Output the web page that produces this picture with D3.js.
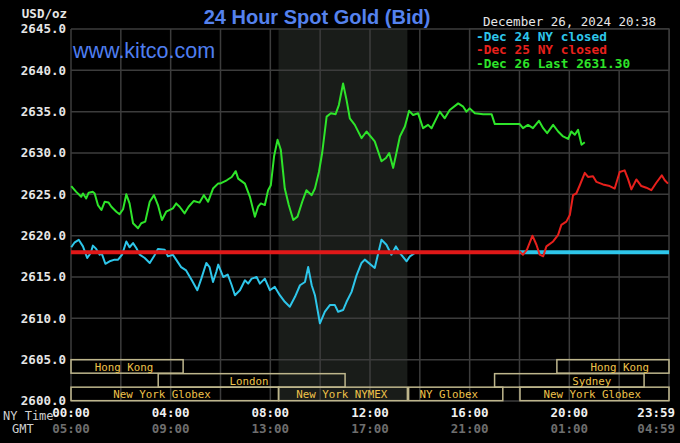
<!DOCTYPE html>
<html><head><meta charset="utf-8">
<script src="https://cdn.jsdelivr.net/npm/d3@7"></script>
<style>
html,body{margin:0;padding:0;background:#000;}
svg{display:block;}
</style></head>
<body>
<script>
// ---------- data ----------
const yTicks = [2600,2605,2610,2615,2620,2625,2630,2635,2640,2645];
const xTickHours = [0,4,8,12,16,20,23.983];
const nyTimeLabels = ["00:00","04:00","08:00","12:00","16:00","20:00","23:59"];
const gmtLabels = ["05:00","09:00","13:00","17:00","21:00","01:00","04:59"];
const closeLevel = 2618.0;
const redCloseSpan = [0,18.0];
const cyanCloseSpan = [18.0,24];
const shadeSpan = [8.33,13.5];

// Dec 24 (cyan): [hour, price]
const dec24 = [[0.01,2618.6],[0.15,2619.2],[0.31,2619.5],[0.48,2618.7],[0.65,2617.3],[0.79,2617.9],[0.88,2618.8],[1.01,2618.4],[1.15,2617.7],[1.24,2617.8],[1.38,2616.6],[1.55,2616.9],[1.75,2617.1],[1.89,2617.1],[2.05,2617.7],[2.22,2619.3],[2.35,2618.6],[2.49,2619.1],[2.62,2618.5],[2.76,2617.7],[2.96,2617.3],[3.16,2616.7],[3.33,2617.5],[3.49,2618.4],[3.76,2618.3],[3.89,2617.5],[4.09,2617.7],[4.22,2617.1],[4.42,2616.2],[4.62,2615.8],[4.85,2614.6],[5.07,2613.4],[5.23,2614.8],[5.43,2616.7],[5.56,2616.2],[5.70,2614.4],[5.83,2615.6],[5.91,2616.5],[6.11,2615.0],[6.29,2615.3],[6.45,2614.0],[6.58,2612.8],[6.78,2613.4],[6.98,2614.6],[7.11,2614.2],[7.25,2614.8],[7.45,2615.0],[7.58,2614.2],[7.78,2614.8],[7.98,2613.4],[8.18,2613.8],[8.38,2612.8],[8.58,2612.0],[8.78,2611.4],[8.99,2612.6],[9.19,2614.0],[9.39,2614.4],[9.52,2616.2],[9.66,2614.0],[9.79,2612.8],[9.99,2609.4],[10.19,2610.8],[10.39,2611.6],[10.59,2611.6],[10.72,2610.8],[10.92,2611.0],[11.06,2612.0],[11.26,2613.2],[11.46,2615.2],[11.66,2616.7],[11.79,2617.1],[12.19,2616.1],[12.46,2619.5],[12.66,2618.9],[12.86,2617.7],[13.04,2618.7],[13.20,2617.9],[13.47,2616.9],[13.60,2617.5],[13.80,2617.9]];

// Dec 25 (red): [hour, price]
const dec25 = [[18.01,2618.1],[18.14,2617.7],[18.30,2618.3],[18.52,2620.0],[18.68,2618.9],[18.81,2617.7],[18.95,2617.5],[19.08,2618.7],[19.35,2619.3],[19.55,2620.1],[19.68,2621.3],[19.88,2621.7],[20.02,2622.5],[20.15,2624.9],[20.28,2625.1],[20.42,2626.1],[20.62,2627.6],[20.75,2627.1],[20.95,2627.2],[21.09,2626.5],[21.35,2626.2],[21.62,2626.0],[21.82,2625.7],[22.02,2627.7],[22.22,2627.9],[22.35,2626.9],[22.49,2625.6],[22.69,2626.8],[22.89,2626.0],[23.09,2625.8],[23.29,2625.5],[23.49,2626.4],[23.71,2627.3],[23.83,2626.7],[23.96,2626.3]];

// Dec 26 (green): [hour, price]
const dec26 = [[0.01,2626.0],[0.21,2625.3],[0.41,2624.7],[0.48,2625.1],[0.61,2624.5],[0.71,2625.2],[0.88,2625.3],[0.95,2625.1],[1.08,2623.7],[1.22,2623.1],[1.35,2624.1],[1.51,2624.0],[1.62,2623.5],[1.82,2622.9],[1.95,2622.6],[2.09,2623.2],[2.22,2625.0],[2.35,2623.9],[2.49,2621.5],[2.69,2620.9],[2.82,2621.5],[2.98,2621.7],[3.16,2624.1],[3.33,2624.9],[3.49,2623.7],[3.65,2621.9],[3.82,2622.9],[4.09,2623.3],[4.22,2623.9],[4.36,2623.5],[4.56,2622.7],[4.72,2623.5],[4.93,2624.2],[5.16,2624.0],[5.33,2624.9],[5.50,2624.1],[5.70,2625.7],[5.90,2626.3],[5.98,2626.3],[6.25,2626.7],[6.45,2627.1],[6.61,2627.8],[6.71,2626.9],[6.98,2626.3],[7.18,2624.7],[7.38,2622.3],[7.51,2623.5],[7.62,2623.9],[7.78,2623.7],[7.91,2625.5],[8.02,2626.1],[8.15,2629.6],[8.29,2631.6],[8.42,2630.4],[8.58,2625.7],[8.74,2623.7],[8.92,2621.9],[9.09,2622.3],[9.28,2624.1],[9.45,2625.5],[9.66,2624.9],[9.79,2625.7],[9.95,2627.7],[10.08,2630.0],[10.26,2634.4],[10.43,2634.8],[10.62,2634.7],[10.75,2635.8],[10.92,2638.4],[11.06,2636.4],[11.19,2634.2],[11.39,2633.4],[11.66,2631.8],[11.86,2632.6],[12.19,2631.4],[12.46,2629.0],[12.64,2629.4],[12.77,2630.0],[12.93,2628.2],[13.06,2630.0],[13.20,2632.0],[13.40,2633.2],[13.57,2635.1],[13.73,2634.6],[13.93,2634.8],[14.13,2633.0],[14.33,2633.4],[14.47,2633.0],[14.80,2635.0],[15.00,2634.2],[15.20,2635.2],[15.54,2636.0],[15.74,2635.6],[15.87,2635.0],[16.00,2635.4],[16.21,2634.8],[16.54,2634.7],[16.88,2634.7],[17.01,2633.5],[18.01,2633.5],[18.14,2633.0],[18.34,2633.4],[18.54,2633.0],[18.78,2633.9],[18.95,2633.0],[19.11,2632.4],[19.35,2633.4],[19.55,2632.6],[19.75,2632.0],[19.95,2631.7],[20.08,2632.6],[20.22,2632.2],[20.35,2632.8],[20.49,2631.0],[20.62,2631.3]];

// market sessions: [name, startHour, endHour, row, labelHour]
const sessions = [
  ["Hong Kong",0,4.5,0,2.13],
  ["London",3.5,11.0,1,7.14],
  ["New York Globex",0,8.33,2,3.65],
  ["New York NYMEX",8.33,13.5,2,10.87],
  ["NY Globex",13.55,17.33,2,15.16],
  ["Hong Kong",19.5,24,0,22.02],
  ["Sydney",17.0,23.0,1,20.9],
  ["New York Globex",18.02,24,2,20.92]
];
const legendItems = ["-Dec 24 NY closed","-Dec 25 NY closed","-Dec 26 Last 2631.30"];
const legendColors = ["#2ec6ea","#e8201c","#2ee42a"];

// ---------- drawing ----------
const W=680,H=443;
const svg=d3.select("body").append("svg").attr("width",W).attr("height",H);
svg.append("rect").attr("width",W).attr("height",H).attr("fill","#000");

const x=d3.scaleLinear().domain([0,24]).range([71,669]);
const y=d3.scaleLinear().domain([2600,2645]).range([401,29]);
const mono="'DejaVu Sans Mono', monospace";
const grid="#3c3c3c";

// shaded NYMEX session
svg.append("rect").attr("x",x(shadeSpan[0])).attr("y",y(2645))
  .attr("width",x(shadeSpan[1])-x(shadeSpan[0])).attr("height",y(2600)-y(2645))
  .attr("fill","#191c19");

// gridlines
svg.append("g").selectAll("line").data(yTicks).join("line")
  .attr("x1",x(0)).attr("x2",x(24)).attr("y1",d=>y(d)).attr("y2",d=>y(d))
  .attr("stroke",grid).attr("stroke-width",1.5);
svg.append("g").selectAll("line").data(d3.range(0,25,2)).join("line")
  .attr("x1",d=>x(d)).attr("x2",d=>x(d)).attr("y1",y(2645)).attr("y2",y(2600))
  .attr("stroke",grid).attr("stroke-width",1.5);

// y labels
svg.append("g").selectAll("text").data(yTicks).join("text")
  .attr("x",66).attr("y",d=>y(d)).attr("dy","0.35em").attr("text-anchor","end")
  .attr("font-family",mono).attr("font-weight","bold").attr("font-size",12.5)
  .attr("fill","#e6e6e6").text(d=>d3.format(".1f")(d));
svg.append("text").attr("x",67).attr("y",14).attr("dy","0.35em").attr("text-anchor","end")
  .attr("font-family",mono).attr("font-weight","bold").attr("font-size",12.5)
  .attr("fill","#e6e6e6").text("USD/oz");

// sessions
const rowTop=[y(2605),y(2605)+14,y(2605)+27.5];
const rowH=[13.5,13.5,13.5];
const sg=svg.append("g");
sg.selectAll("rect").data(sessions).join("rect")
  .attr("x",d=>x(d[1])).attr("y",d=>rowTop[d[3]])
  .attr("width",d=>x(d[2])-x(d[1])).attr("height",d=>rowH[d[3]])
  .attr("fill","none").attr("stroke","#beb68c").attr("stroke-width",1.5);
sg.selectAll("text").data(sessions).join("text")
  .attr("x",d=>x(d[4])).attr("y",d=>rowTop[d[3]]+rowH[d[3]]/2+0.5).attr("dy","0.35em")
  .attr("text-anchor","middle").attr("font-family",mono).attr("font-size",10.8)
  .attr("fill","#eec24a").text(d=>d[0]);

// x labels
svg.append("g").selectAll("text").data(nyTimeLabels).join("text")
  .attr("x",(d,i)=>i===nyTimeLabels.length-1?675:x(xTickHours[i]))
  .attr("y",413).attr("dy","0.35em")
  .attr("text-anchor",(d,i)=>i===nyTimeLabels.length-1?"end":"middle")
  .attr("font-family",mono).attr("font-weight","bold").attr("font-size",12.5)
  .attr("fill","#f0f0f0").text(d=>d);
svg.append("g").selectAll("text").data(gmtLabels).join("text")
  .attr("x",(d,i)=>i===gmtLabels.length-1?675:x(xTickHours[i]))
  .attr("y",429).attr("dy","0.35em")
  .attr("text-anchor",(d,i)=>i===gmtLabels.length-1?"end":"middle")
  .attr("font-family",mono).attr("font-weight","bold").attr("font-size",12.5)
  .attr("fill","#6e6e6e").text(d=>d);
svg.append("text").attr("x",3).attr("y",416).attr("dy","0.35em")
  .attr("font-family",mono).attr("font-size",12).attr("fill","#d0d0d0").text("NY Time");
svg.append("text").attr("x",12).attr("y",429).attr("dy","0.35em")
  .attr("font-family",mono).attr("font-size",12).attr("fill","#d0d0d0").text("GMT");

// series
const line=d3.line().x(d=>x(d[0])).y(d=>y(d[1]));
svg.append("path").datum(dec24).attr("d",line).attr("fill","none")
  .attr("stroke","#2ec6ea").attr("stroke-width",2).attr("stroke-linejoin","round");
svg.append("path").datum(redCloseSpan.map(h=>[h,closeLevel])).attr("d",line)
  .attr("stroke","#e01818").attr("stroke-width",4);
svg.append("path").datum(cyanCloseSpan.map(h=>[h,closeLevel])).attr("d",line)
  .attr("stroke","#2ec6ea").attr("stroke-width",4);
svg.append("path").datum(dec25).attr("d",line).attr("fill","none")
  .attr("stroke","#e8201c").attr("stroke-width",2).attr("stroke-linejoin","round");
svg.append("path").datum(dec26).attr("d",line).attr("fill","none")
  .attr("stroke","#2ee42a").attr("stroke-width",2).attr("stroke-linejoin","round");

// legend
svg.append("rect").attr("x",x(16)).attr("y",y(2645)).attr("width",x(24)-x(16))
  .attr("height",y(2640)-y(2645)).attr("fill","#000").attr("stroke",grid).attr("stroke-width",1.5);
svg.append("g").selectAll("text").data(legendItems).join("text")
  .attr("x",476).attr("y",(d,i)=>36.5+i*13.5).attr("dy","0.35em")
  .attr("font-family",mono).attr("font-weight","bold").attr("font-size",12.8)
  .attr("fill",(d,i)=>legendColors[i]).text(d=>d);

// titles
svg.append("text").attr("x",317).attr("y",24).attr("text-anchor","middle")
  .attr("font-family","'Liberation Sans', Arial, sans-serif").attr("font-weight","bold")
  .attr("font-size",20).attr("fill","#5582ee").text("24 Hour Spot Gold (Bid)");
svg.append("text").attr("x",73).attr("y",58).attr("font-family","'Liberation Sans', Arial, sans-serif")
  .attr("font-size",21.5).attr("fill","#4f7ef0").text("www.kitco.com");
svg.append("text").attr("x",483).attr("y",22).attr("dy","0.35em")
  .attr("font-family",mono).attr("font-size",12.5).attr("fill","#e6e6e6")
  .text("December 26, 2024 20:38");
</script>
</body></html>
